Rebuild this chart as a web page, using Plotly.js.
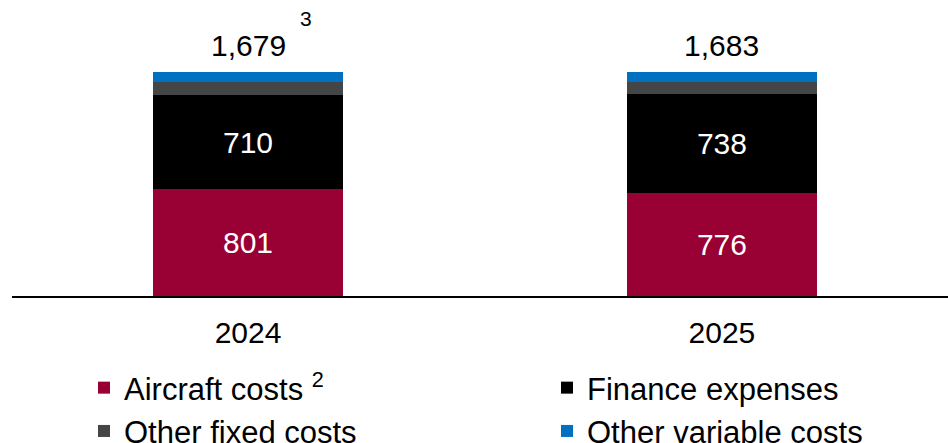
<!DOCTYPE html>
<html>
<head>
<meta charset="utf-8">
<script src="https://cdn.plot.ly/plotly-3.0.1.min.js"></script>
<style>html,body{margin:0;padding:0;background:#fff}#chart{width:948px;height:443px}</style>
</head>
<body>
<div id="chart"></div>
<script>
const years = ['2024', '2025'];
const aircraftCosts = [801, 776];
const financeExpenses = [710, 738];
const otherFixedCosts = [93, 94];
const otherVariableCosts = [75, 75];
const totals = [1679, 1683];
const totalLabels = ['1,679', '1,683'];
const totalFootnotes = ['3', ''];
const seriesNames = ['Aircraft costs <sup>2</sup>', 'Finance expenses', 'Other fixed costs', 'Other variable costs'];

const FONT = 'Arial, "Liberation Sans", sans-serif';
const colors = ['#990033', '#000000', '#444547', '#0070C0'];
const seriesData = [aircraftCosts, financeExpenses, otherFixedCosts, otherVariableCosts];
const showText = [true, true, false, false];

const traces = seriesData.map((vals, i) => ({
  type: 'bar',
  name: seriesNames[i],
  x: years,
  y: vals,
  width: 0.4,
  marker: {color: colors[i], line: {width: 0}},
  text: showText[i] ? vals.map(String) : null,
  textposition: showText[i] ? 'inside' : 'none',
  insidetextanchor: 'middle',
  textfont: {family: FONT, size: 30, color: '#ffffff'},
  hoverinfo: 'none'
}));

const annotations = [];
years.forEach((yr, i) => {
  annotations.push({
    x: i, y: totals[i], xref: 'x', yref: 'y',
    text: totalLabels[i], showarrow: false,
    yanchor: 'bottom', yshift: 8,
    font: {family: FONT, size: 30, color: '#000'}
  });
  if (totalFootnotes[i]) {
    annotations.push({
      x: i, y: totals[i], xref: 'x', yref: 'y',
      text: totalFootnotes[i], showarrow: false,
      xanchor: 'left', yanchor: 'bottom', xshift: 50, yshift: 40,
      font: {family: FONT, size: 21, color: '#000'}
    });
  }
});

const layout = {
  width: 948, height: 443,
  margin: {l: 12, r: 0, t: 0, b: 147, pad: 0},
  paper_bgcolor: '#fff', plot_bgcolor: '#fff',
  barmode: 'stack',
  showlegend: true,
  legend: {
    orientation: 'h', traceorder: 'normal',
    x: 84 / 948, xref: 'container', xanchor: 'left',
    y: 1 - 361 / 443, yref: 'container', yanchor: 'top',
    entrywidth: 418, entrywidthmode: 'pixels',
    font: {family: FONT, size: 31, color: '#000'},
    itemclick: false, itemdoubleclick: false,
    bgcolor: 'rgba(0,0,0,0)'
  },
  xaxis: {
    type: 'category', categoryorder: 'array', categoryarray: years,
    range: [-0.498, 1.477],
    showline: true, linecolor: '#000', linewidth: 2,
    showgrid: false, zeroline: false, ticks: '',
    ticklabelstandoff: 9,
    tickfont: {family: FONT, size: 30, color: '#000'},
    fixedrange: true
  },
  yaxis: {
    range: [0, 2222], visible: false, showgrid: false, zeroline: false, fixedrange: true
  },
  annotations: annotations,
  font: {family: FONT}
};

Plotly.newPlot('chart', traces, layout, {displayModeBar: false, staticPlot: true});
</script>
</body>
</html>
